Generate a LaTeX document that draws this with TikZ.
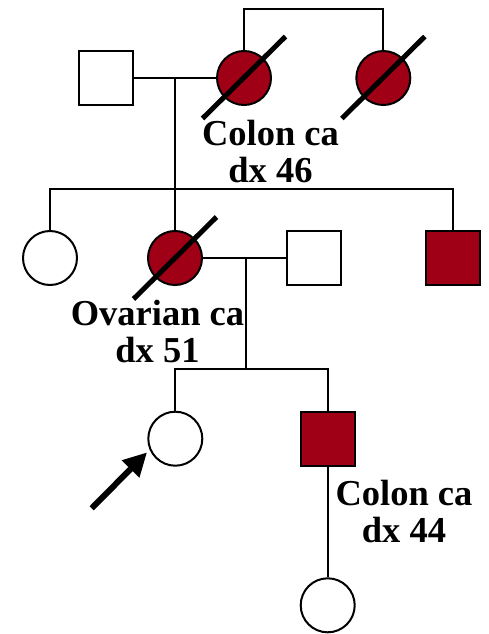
\documentclass[tikz,border=0pt]{standalone}
\usepackage{fontspec}
\setmainfont{Liberation Serif}
\usetikzlibrary{calc,arrows.meta}
\definecolor{cared}{RGB}{160,0,22}
\begin{document}
\begin{tikzpicture}[x=1pt,y=-1pt,
  line/.style={line width=2pt},
  person/.style={draw, line width=2pt, inner sep=0pt, minimum size=54pt},
  female/.style={person, circle},
  male/.style={person, rectangle},
  affected/.style={fill=cared},
  lbl/.style={font=\bfseries\fontsize{36.5}{37}\selectfont, align=center, inner sep=0pt, anchor=north},
  deadmark/.style={line width=5pt},
]
\useasboundingbox (0,0) rectangle (488,634);
% generation I
\node[male] (gf) at (105.5,78) {};
\node[female,affected] (gm) at (244,78) {};
\node[female,affected] (ga) at (383.3,78) {};
% generation II
\node[female] (aunt) at (50,258) {};
\node[female,affected] (mother) at (175,258) {};
\node[male] (father) at (313.7,258) {};
\node[male,affected] (uncle) at (452.5,258) {};
% generation III
\node[female] (proband) at (175.3,438.7) {};
\node[male,affected] (brother) at (327.7,438.7) {};
% generation IV
\node[female] (niece) at (327.7,605.3) {};

% connectors
\coordinate (topbar) at (313,9);
\draw[line] (gm.north) |- (topbar) -| (ga.north);
\draw[line] (gf.east) -- (gm.west);
\coordinate (m1) at (mother.north |- gf.east);
\coordinate (sib2) at (250,189);
\draw[line] (m1) -- (mother.north);
\draw[line] (aunt.north) |- (sib2) -| (uncle.north);
\draw[line] (mother.east) -- (father.west);
\coordinate (m2) at (245.7,258);
\coordinate (sib3) at (245.7,369.3);
\draw[line] (m2) -- (sib3);
\draw[line] (proband.north) |- (sib3) -| (brother.north);
\draw[line] (brother.south) -- (niece.north);

% deceased marks
\draw[deadmark] ($(gm)+(-41.5,40.5)$) -- ($(gm)+(41.5,-41.5)$);
\draw[deadmark] ($(ga)+(-41.5,40.5)$) -- ($(ga)+(41.5,-41.5)$);
\draw[deadmark] ($(mother)+(-41.5,41)$) -- ($(mother)+(41.5,-41)$);

% proband arrow
\coordinate (arrowstart) at (91.7,508.3);
\coordinate (arrowtip) at (146.7,452.7);
\draw[line width=6pt, -{Triangle[length=23pt,width=25pt,line width=0pt]}] (arrowstart) -- (arrowtip);

% labels
\node[lbl] (lab1) at (270.5,120) {Colon ca\\dx 46};
\node[lbl] (lab2) at (157.5,300) {Ovarian ca\\dx 51};
\node[lbl] (lab3) at (404,480) {Colon ca\\dx 44};
\end{tikzpicture}
\end{document}
